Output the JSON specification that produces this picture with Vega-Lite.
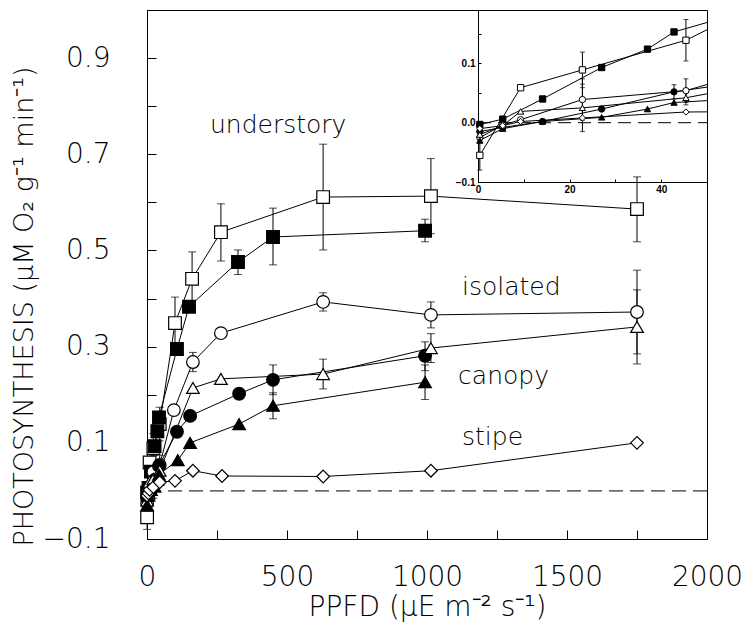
{
  "$schema": "https://vega.github.io/schema/vega-lite/v6.json",
  "width": 560,
  "height": 529,
  "autosize": "none",
  "padding": {"left": 147, "top": 10, "right": 38, "bottom": 89},
  "background": "white",
  "config": {
    "view": {"stroke": "black", "strokeWidth": 1},
    "axis": {"grid": false, "domainColor": "black", "tickColor": "black", "labelColor": "black", "titleColor": "black", "labelFont": "DejaVu Sans", "titleFont": "DejaVu Sans", "labelFontWeight": 200, "titleFontWeight": 200}
  },
  "datasets": {
    "pts": [
      {"s": "sqo", "x": 0.4, "y": -0.055, "lo": -0.08, "hi": -0.03},
      {"s": "sqo", "x": 9.3, "y": 0.059},
      {"s": "sqo", "x": 22.8, "y": 0.089, "lo": 0.059, "hi": 0.119},
      {"s": "sqo", "x": 45.4, "y": 0.139, "lo": 0.104, "hi": 0.174},
      {"s": "sqo", "x": 100, "y": 0.349, "lo": 0.295, "hi": 0.403},
      {"s": "sqo", "x": 161, "y": 0.441, "lo": 0.385, "hi": 0.497},
      {"s": "sqo", "x": 264, "y": 0.538, "lo": 0.478, "hi": 0.597},
      {"s": "sqo", "x": 629, "y": 0.611, "lo": 0.501, "hi": 0.721},
      {"s": "sqo", "x": 1014, "y": 0.613, "lo": 0.535, "hi": 0.691},
      {"s": "sqo", "x": 1750, "y": 0.586, "lo": 0.518, "hi": 0.653},
      {"s": "sqf", "x": 0.4, "y": -0.003},
      {"s": "sqf", "x": 5.4, "y": 0.006},
      {"s": "sqf", "x": 14.1, "y": 0.04},
      {"s": "sqf", "x": 27, "y": 0.093},
      {"s": "sqf", "x": 37, "y": 0.124},
      {"s": "sqf", "x": 42.8, "y": 0.153},
      {"s": "sqf", "x": 107, "y": 0.295},
      {"s": "sqf", "x": 150, "y": 0.383},
      {"s": "sqf", "x": 325, "y": 0.476, "lo": 0.45, "hi": 0.501},
      {"s": "sqf", "x": 450, "y": 0.528, "lo": 0.47, "hi": 0.588},
      {"s": "sqf", "x": 993, "y": 0.541, "lo": 0.518, "hi": 0.565},
      {"s": "cio", "x": 0.4, "y": -0.025},
      {"s": "cio", "x": 5.4, "y": -0.004},
      {"s": "cio", "x": 9.3, "y": 0.005},
      {"s": "cio", "x": 22.8, "y": 0.039, "lo": 0.004, "hi": 0.074},
      {"s": "cio", "x": 45.4, "y": 0.054, "lo": 0.034, "hi": 0.074},
      {"s": "cio", "x": 96, "y": 0.168},
      {"s": "cio", "x": 164, "y": 0.268, "lo": 0.248, "hi": 0.288},
      {"s": "cio", "x": 264, "y": 0.328},
      {"s": "cio", "x": 629, "y": 0.393, "lo": 0.374, "hi": 0.412},
      {"s": "cio", "x": 1014, "y": 0.366, "lo": 0.339, "hi": 0.393},
      {"s": "cio", "x": 1750, "y": 0.372, "lo": 0.285, "hi": 0.459},
      {"s": "cif", "x": 0.4, "y": -0.015},
      {"s": "cif", "x": 5.4, "y": -0.008},
      {"s": "cif", "x": 14.1, "y": 0.002},
      {"s": "cif", "x": 27, "y": 0.023},
      {"s": "cif", "x": 42.8, "y": 0.052, "lo": 0.04, "hi": 0.064},
      {"s": "cif", "x": 107, "y": 0.123},
      {"s": "cif", "x": 154, "y": 0.156},
      {"s": "cif", "x": 329, "y": 0.202},
      {"s": "cif", "x": 450, "y": 0.231, "lo": 0.2, "hi": 0.262},
      {"s": "cif", "x": 993, "y": 0.281, "lo": 0.25, "hi": 0.31},
      {"s": "tro", "x": 0.4, "y": -0.02},
      {"s": "tro", "x": 5.4, "y": -0.005},
      {"s": "tro", "x": 9.3, "y": 0.019},
      {"s": "tro", "x": 22.8, "y": 0.025, "lo": -0.015, "hi": 0.065},
      {"s": "tro", "x": 45.4, "y": 0.042, "lo": 0.03, "hi": 0.054},
      {"s": "tro", "x": 164, "y": 0.214},
      {"s": "tro", "x": 264, "y": 0.233},
      {"s": "tro", "x": 629, "y": 0.243, "lo": 0.212, "hi": 0.274},
      {"s": "tro", "x": 1014, "y": 0.297, "lo": 0.267, "hi": 0.327},
      {"s": "tro", "x": 1750, "y": 0.341, "lo": 0.264, "hi": 0.418},
      {"s": "trf", "x": 0.4, "y": -0.03},
      {"s": "trf", "x": 5.4, "y": -0.01},
      {"s": "trf", "x": 14.1, "y": 0.002},
      {"s": "trf", "x": 27, "y": 0.009},
      {"s": "trf", "x": 37, "y": 0.023},
      {"s": "trf", "x": 42.8, "y": 0.034},
      {"s": "trf", "x": 110, "y": 0.064},
      {"s": "trf", "x": 154, "y": 0.1},
      {"s": "trf", "x": 329, "y": 0.139},
      {"s": "trf", "x": 450, "y": 0.177, "lo": 0.15, "hi": 0.204},
      {"s": "trf", "x": 993, "y": 0.226, "lo": 0.19, "hi": 0.262},
      {"s": "dia", "x": 0.4, "y": -0.01},
      {"s": "dia", "x": 5.4, "y": -0.005},
      {"s": "dia", "x": 9.3, "y": 0.002},
      {"s": "dia", "x": 22.8, "y": 0.008},
      {"s": "dia", "x": 45.4, "y": 0.018},
      {"s": "dia", "x": 100, "y": 0.021},
      {"s": "dia", "x": 164, "y": 0.042},
      {"s": "dia", "x": 268, "y": 0.031},
      {"s": "dia", "x": 629, "y": 0.03},
      {"s": "dia", "x": 1014, "y": 0.042},
      {"s": "dia", "x": 1750, "y": 0.1}
    ],
    "labs": [
      {"t": "understory", "x": 225, "y": 0.744},
      {"t": "isolated", "x": 1125, "y": 0.407},
      {"t": "canopy", "x": 1111, "y": 0.222},
      {"t": "stipe", "x": 1125, "y": 0.095}
    ],
    "zero": [{"x": 0, "x2": 2000, "y": 0}],
    "zeroi": [{"x": 0, "x2": 50, "y": 0}]
  },
  "layer": [
    {
      "layer": [
        {
          "data": {"name": "zero"},
          "mark": {"type": "rule", "stroke": "black", "strokeWidth": 1, "strokeDash": [14, 7]},
          "encoding": {
            "x": {"field": "x", "type": "quantitative", "scale": {"domain": [0, 2000], "nice": false, "zero": false},
              "axis": {"orient": "bottom", "values": [0, 250, 500, 750, 1000, 1250, 1500, 1750, 2000], "format": "d", "labelExpr": "datum.value % 500 == 0 ? datum.label : ''", "tickSize": -9, "labelPadding": 33, "labelFontSize": 28, "title": "PPFD (μE m⁻² s⁻¹)", "titleFontSize": 28, "titleY": 68, "titleBaseline": "middle", "labelFlush": false}},
            "x2": {"field": "x2"},
            "y": {"field": "y", "type": "quantitative", "scale": {"domain": [-0.1, 1.0], "nice": false, "zero": false},
              "axis": {"orient": "left", "values": [-0.1, 0, 0.1, 0.2, 0.3, 0.4, 0.5, 0.6, 0.7, 0.8, 0.9, 1.0], "format": ".1f", "labelExpr": "abs(round(datum.value*10)) % 2 == 1 ? datum.label : ''", "tickSize": -9, "labelPadding": 46, "labelFontSize": 28, "labelFlush": false, "title": "PHOTOSYNTHESIS (μM O₂ g⁻¹ min⁻¹)", "titleFontSize": 27, "titleX": -123, "titleY": 296, "titleAngle": -90, "titleAlign": "center", "titleBaseline": "middle"}}
          }
        },
        {
          "data": {"name": "pts"},
          "mark": {"type": "line", "stroke": "black", "strokeWidth": 1},
          "encoding": {
            "x": {"field": "x", "type": "quantitative"},
            "y": {"field": "y", "type": "quantitative"},
            "detail": {"field": "s", "type": "nominal"}
          }
        },
        {
          "data": {"name": "pts"},
          "transform": [{"filter": "isValid(datum.lo)"}],
          "mark": {"type": "rule", "stroke": "black", "strokeWidth": 1},
          "encoding": {
            "x": {"field": "x", "type": "quantitative"},
            "y": {"field": "lo", "type": "quantitative"},
            "y2": {"field": "hi"}
          }
        },
        {
          "data": {"name": "pts"},
          "transform": [{"filter": "isValid(datum.lo)"}],
          "mark": {"type": "tick", "orient": "horizontal", "color": "black", "thickness": 1, "size": 8},
          "encoding": {
            "x": {"field": "x", "type": "quantitative"},
            "y": {"field": "lo", "type": "quantitative"}
          }
        },
        {
          "data": {"name": "pts"},
          "transform": [{"filter": "isValid(datum.lo)"}],
          "mark": {"type": "tick", "orient": "horizontal", "color": "black", "thickness": 1, "size": 8},
          "encoding": {
            "x": {"field": "x", "type": "quantitative"},
            "y": {"field": "hi", "type": "quantitative"}
          }
        },
        {
          "data": {"name": "pts"},
          "mark": {"type": "point", "stroke": "black", "strokeWidth": 1.2, "opacity": 1, "fillOpacity": 1, "size": 160},
          "encoding": {
            "x": {"field": "x", "type": "quantitative"},
            "y": {"field": "y", "type": "quantitative"},
            "shape": {"field": "s", "type": "nominal", "scale": {"domain": ["sqo", "sqf", "cio", "cif", "tro", "trf", "dia"], "range": ["square", "square", "circle", "circle", "triangle-up", "triangle-up", "diamond"]}, "legend": null},
            "fill": {"field": "s", "type": "nominal", "scale": {"domain": ["sqo", "sqf", "cio", "cif", "tro", "trf", "dia"], "range": ["white", "black", "white", "black", "white", "black", "white"]}, "legend": null}
          }
        },
        {
          "data": {"name": "labs"},
          "mark": {"type": "text", "align": "left", "baseline": "alphabetic", "font": "DejaVu Sans", "fontWeight": 200, "fontSize": 25, "color": "black"},
          "encoding": {
            "x": {"field": "x", "type": "quantitative"},
            "y": {"field": "y", "type": "quantitative"},
            "text": {"field": "t"}
          }
        }
      ]
    },
    {
      "layer": [
        {
          "data": {"name": "zeroi"},
          "mark": {"type": "rule", "stroke": "black", "strokeWidth": 1, "strokeDash": [13, 7], "clip": true},
          "encoding": {
            "x": {"field": "x", "type": "quantitative", "scale": {"domain": [0, 50], "range": [331, 560], "nice": false, "zero": false},
              "axis": {"orient": "bottom", "offset": -357, "values": [0, 10, 20, 30, 40], "format": "d", "labelExpr": "datum.value % 20 == 0 ? datum.label : ''", "tickSize": -3, "labelPadding": 5, "labelFontSize": 10, "labelFont": "Liberation Sans", "labelFontWeight": "bold", "labelFlush": false, "title": null}},
            "x2": {"field": "x2"},
            "y": {"field": "y", "type": "quantitative", "scale": {"domain": [-0.1, 0.19], "range": [172, 0], "nice": false, "zero": false},
              "axis": {"orient": "left", "offset": -331, "values": [-0.1, -0.05, 0, 0.05, 0.1, 0.15], "format": ".1f", "labelExpr": "abs(round(datum.value*20)) % 2 == 0 ? datum.label : ''", "tickSize": -3, "labelPadding": 6, "labelFontSize": 10, "labelFont": "Liberation Sans", "labelFontWeight": "bold", "labelFlush": false, "title": null}}
          }
        },
        {
          "data": {"name": "pts"},
          "mark": {"type": "line", "stroke": "black", "strokeWidth": 1, "clip": true},
          "encoding": {
            "x": {"field": "x", "type": "quantitative"},
            "y": {"field": "y", "type": "quantitative"},
            "detail": {"field": "s", "type": "nominal"}
          }
        },
        {
          "data": {"name": "pts"},
          "transform": [{"filter": "isValid(datum.lo) && datum.x < 50"}],
          "mark": {"type": "rule", "stroke": "black", "strokeWidth": 1, "clip": true},
          "encoding": {
            "x": {"field": "x", "type": "quantitative"},
            "y": {"field": "lo", "type": "quantitative"},
            "y2": {"field": "hi"}
          }
        },
        {
          "data": {"name": "pts"},
          "transform": [{"filter": "isValid(datum.lo) && datum.x < 50"}],
          "mark": {"type": "tick", "orient": "horizontal", "color": "black", "thickness": 1, "size": 5, "clip": true},
          "encoding": {
            "x": {"field": "x", "type": "quantitative"},
            "y": {"field": "lo", "type": "quantitative"}
          }
        },
        {
          "data": {"name": "pts"},
          "transform": [{"filter": "isValid(datum.lo) && datum.x < 50"}],
          "mark": {"type": "tick", "orient": "horizontal", "color": "black", "thickness": 1, "size": 5, "clip": true},
          "encoding": {
            "x": {"field": "x", "type": "quantitative"},
            "y": {"field": "hi", "type": "quantitative"}
          }
        },
        {
          "data": {"name": "pts"},
          "transform": [{"filter": "datum.x < 50"}],
          "mark": {"type": "point", "stroke": "black", "strokeWidth": 1, "opacity": 1, "fillOpacity": 1, "size": 40, "clip": true},
          "encoding": {
            "x": {"field": "x", "type": "quantitative"},
            "y": {"field": "y", "type": "quantitative"},
            "shape": {"field": "s", "type": "nominal", "legend": null},
            "fill": {"field": "s", "type": "nominal", "legend": null}
          }
        }
      ]
    }
  ],
  "resolve": {"scale": {"x": "independent", "y": "independent"}}
}
